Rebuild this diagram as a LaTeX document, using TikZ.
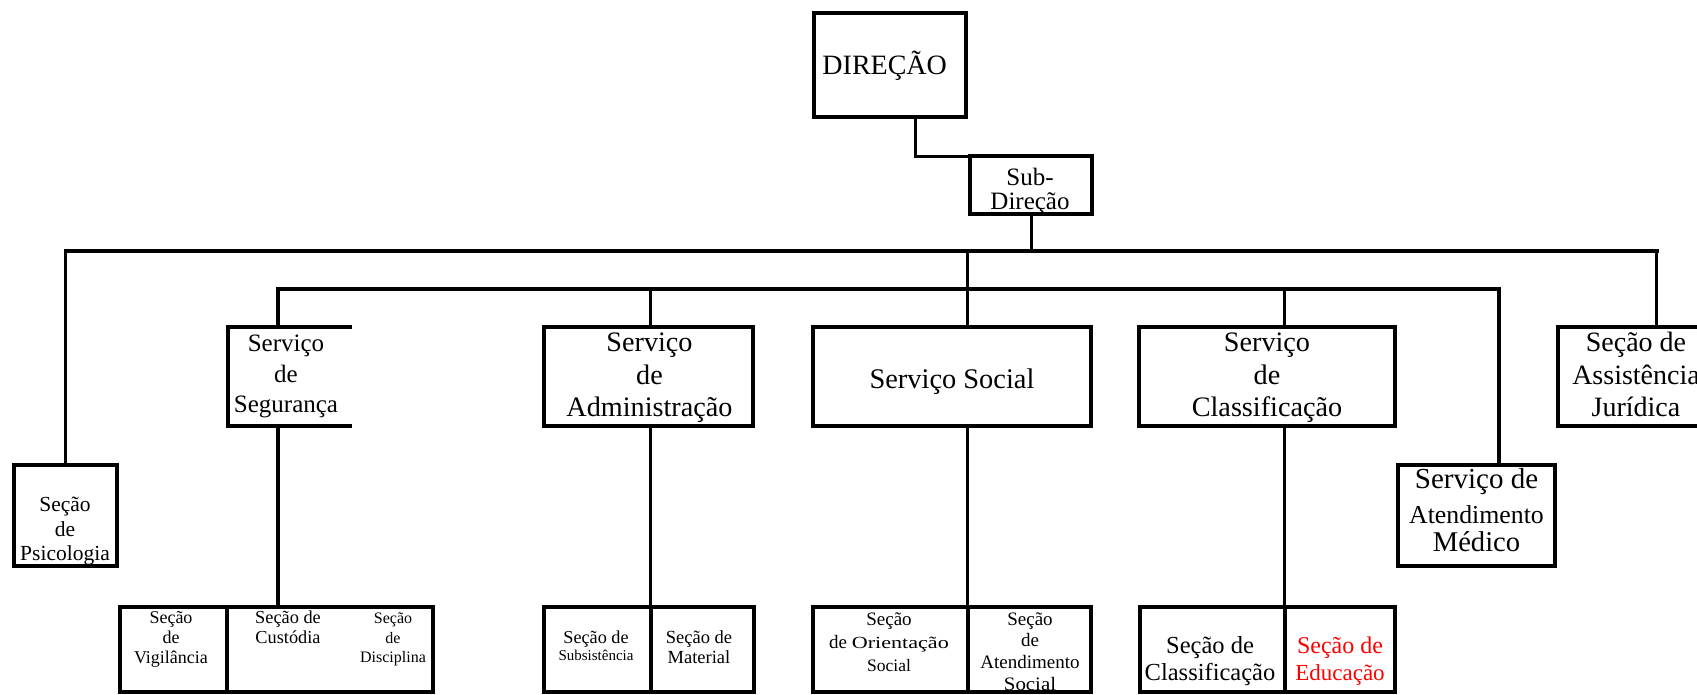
\documentclass[tikz,border=0pt]{standalone}
\usepackage{fontspec}
\usepackage{graphicx}
\setmainfont{Liberation Serif}
\newcommand\fs[2]{\fontsize{#1}{#2}\selectfont}
\newcommand\tp[1]{\rule{0pt}{#1pt}}
\begin{document}
\begin{tikzpicture}[x=1pt,y=-1pt,
  box/.style={draw, line width=4pt, inner sep=0pt, outer sep=0pt},
  boxline/.style={line width=4pt},
  drop/.style={line width=3.3pt},
  busline/.style={line width=4pt, line cap=rect},
  txt/.style={anchor=north, inner sep=0pt, align=center},
]
\useasboundingbox (0,0) rectangle (1697,695);
\fill[white] (0,0) rectangle (1697,695);

% boxes
\node[box, minimum width=152.3pt, minimum height=104.6pt] (dir) at (890.15,65) {};
\node[box, minimum width=121.7pt, minimum height=57.4pt] (sub) at (1031.15,185) {};
\node[inner sep=0pt, outer sep=0pt, minimum width=124pt, minimum height=99pt] (seg) at (289.7,376.5) {};
\node[box, minimum width=209pt, minimum height=99pt] (adm) at (648.8,376.5) {};
\node[box, minimum width=277.6pt, minimum height=99pt] (soc) at (952.2,376.5) {};
\node[box, minimum width=255.7pt, minimum height=99pt] (cla) at (1267.05,376.5) {};
\node[box, minimum width=202.4pt, minimum height=99pt] (jur) at (1658.8,376.5) {};
\node[box, minimum width=157.6pt, minimum height=101pt] (med) at (1476.6,515.8) {};
\node[box, minimum width=103pt, minimum height=101pt] (psi) at (65.5,515.8) {};
% bottom cells
\node[box, minimum width=106.4pt, minimum height=85pt] (vig) at (173.5,649.5) {};
\node[box, minimum width=206.3pt, minimum height=85pt] (cus) at (329.85,649.5) {};
\node[box, minimum width=107pt, minimum height=85pt] (subs) at (597,649.5) {};
\node[box, minimum width=103.3pt, minimum height=85pt] (mat) at (702.15,649.5) {};
\node[box, minimum width=154.1pt, minimum height=85pt] (ori) at (890.45,649.5) {};
\node[box, minimum width=123.5pt, minimum height=85pt] (ate) at (1029.25,649.5) {};
\node[box, minimum width=145pt, minimum height=85pt] (clb) at (1212,649.5) {};
\node[box, minimum width=110.2pt, minimum height=85pt] (edu) at (1339.6,649.5) {};

% open box for Seguranca
\draw[boxline] (seg.north east) -- (seg.north west) -- (seg.south west) -- (seg.south east);

% connectors
\draw[drop] ([xshift=25.15pt]dir.south) |- (sub.north west);
\coordinate (bus1) at (1030,251);
\coordinate (bus2) at (967.5,289);
\draw[drop] (sub.south) -- (sub.south |- bus1);
\coordinate (psiT) at (psi.north);
\coordinate (jurT) at ([xshift=99pt]jur.north west);
\coordinate (segT) at ([xshift=50.3pt]seg.north west);
\coordinate (admT) at ([xshift=106.2pt]adm.north west);
\coordinate (socT) at ([xshift=154.1pt]soc.north west);
\coordinate (claT) at ([xshift=145.3pt]cla.north west);
\coordinate (medT) at ([xshift=101.2pt]med.north west);
\draw[busline] (psiT |- bus1) -- (jurT |- bus1);
\draw[drop] (psiT |- bus1) -- (psiT);
\draw[drop] (jurT |- bus1) -- (jurT);
\draw[drop] (bus2 |- bus1) -- (bus2);
\draw[busline] (segT |- bus2) -- (medT |- bus2);
\draw[drop] (segT |- bus2) -- (segT);
\draw[drop] (admT |- bus2) -- (admT);
\draw[drop] (socT |- bus2) -- (socT);
\draw[drop] (claT |- bus2) -- (claT);
\draw[drop] (medT |- bus2) -- (medT);
\coordinate (segB) at ([xshift=50.3pt]seg.south west);
\draw[drop] (segB) -- (segB |- cus.north);
\draw[drop] ([xshift=106.2pt]adm.south west) -- (mat.north west);
\draw[drop] ([xshift=154.1pt]soc.south west) -- (ate.north west);
\draw[drop] ([xshift=145.3pt]cla.south west) -- (edu.north west);

% texts
\node[txt, anchor=base, font=\fs{28}{28}] (tdir) at (884.7,75) {DIREÇÃO};
\node[txt, font=\fs{25}{24}] (tsub) at (1030,165) {\tp{20}Sub-\\Direção};
\node[txt, font=\fs{25}{30.5}] (tseg) at (286,331.7) {\tp{20}Serviço\\de\\Segurança};
\node[txt, font=\fs{28.2}{32.5}] (tadm) at (649.5,329.2) {\tp{22.5}Serviço\\de\\Administração};
\node[txt, anchor=base, font=\fs{28.4}{32}] (tsoc) at (952,388) {Serviço Social};
\node[txt, font=\fs{28.2}{32.5}] (tcla) at (1267,329.2) {\tp{22.5}Serviço\\de\\Classificação};
\node[txt, font=\fs{28}{32.5}] (tjur) at (1636,329.3) {\tp{22.4}Seção de\\Assistência\\Jurídica};
\node[txt, font=\fs{28}{28}] (tmed) at (1476.5,465) {\fs{29}{28}\tp{23}Serviço de\\[7pt]\fs{25.8}{28}Atendimento\\\fs{28.6}{28}Médico};
\node[txt, font=\fs{21.5}{24.5}] (tpsi) at (65,494.5) {\tp{17.2}Seção\\de\\Psicologia};

\node[txt, font=\fs{18}{20}] (tvig) at (171,609) {\tp{14.3}Seção\\de\\Vigilância};
\node[txt, font=\fs{18.3}{19.5}] (tcus) at (288,608.7) {\tp{14.6}Seção de\\Custódia};
\node[txt, font=\fs{16}{19.5}] (tdis) at (393,610.5) {\tp{12.8}Seção\\de\\Disciplina};
\node[txt, font=\fs{18.2}{17.4}] (tsubs) at (596,628.7) {\tp{14.6}Seção de\\\fs{15}{17.4}Subsistência};
\node[txt, font=\fs{18.5}{19.7}] (tmat) at (699,628.5) {\tp{14.8}Seção de\\Material};
\node[txt, font=\fs{19}{23}] (tori) at (889,609.8) {\tp{15.2}Seção\\de \fs{17}{23}\scalebox{1.3}[1]{Orientação}\\\fs{17.5}{23}Social};
\node[txt, font=\fs{19}{21.7}] (tate) at (1030,609.8) {\tp{15.2}Seção\\de\\Atendimento\\\scalebox{1.1}[1]{Social}};
\node[txt, font=\fs{24.5}{27.4}] (tclb) at (1210,633.7) {\tp{19.6}Seção de\\Classificação};
\node[txt, text=red, font=\fs{24}{27.4}] (tedu) at (1340,634.1) {\tp{19.2}Seção de\\\fs{23}{27.4}Educação};
\end{tikzpicture}
\end{document}
